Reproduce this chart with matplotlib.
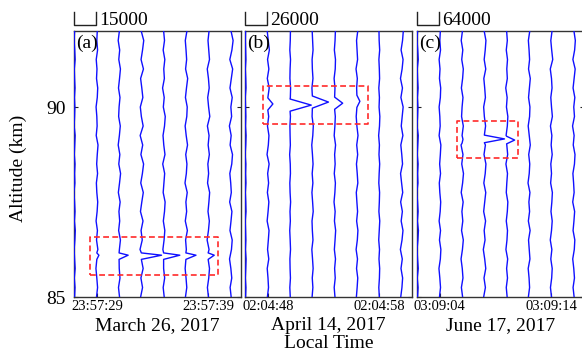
import numpy as np
import matplotlib
matplotlib.use('Agg')
import matplotlib.pyplot as plt

plt.rcParams['font.family'] = ['Liberation Serif', 'DejaVu Serif']

# ---------------- data ----------------
altitudes = np.arange(85.0, 92.001, 0.25)          # km, profile grid (29 levels)
trace_times = [-2, 0, 2, 4, 6, 8, 10, 12]          # s, relative to first labelled tick
trace_spacing = 2.0                                # s between profiles

panel_labels = ['(a)', '(b)', '(c)']
dates = ['March 26, 2017', 'April 14, 2017', 'June 17, 2017']
scales = [15000, 26000, 64000]                     # counts per trace spacing
tick_positions = [0, 10]
tick_labels = [['23:57:29', '23:57:39'],
               ['02:04:48', '02:04:58'],
               ['03:09:04', '03:09:14']]

# profile deviations (counts) on the altitude grid, panel (a)
dev_a = [
    [0, 300, -200, 400, 0, -300, 200, 500, -100, 300, 0, -400, 200, 0, 300, -200, 100, 400, -300, 0, 200, -100, 300, 0, -200, 400, 100, -300, 0],
    [-200, 500, 0, -600, 300, 700, -200, 400, -500, 200, 600, 0, -300, 500, -100, 300, 800, -400, 200, 0, -500, 300, 600, -200, 100, -400, 500, 0, 300],
    [300, -400, 600, 100, -700, 200, 900, -300, 400, -100, 700, -500, 300, 1000, -200, 500, -600, 200, 800, -300, 0, 600, -400, 300, 900, -200, 400, -600, 200],
    [-500, 800, -300, 1200, 200, -900, 600, -200, 1100, -600, 300, 1300, -400, 700, 1500, -300, 900, -800, 1200, 0, -700, 1000, 300, -500, 1400, -200, 800, 1600, -100],
    [400, -300, 700, 0, 900, -500, 300, 800, -200, 600, 1000, -300, 200, 700, -600, 900, 100, -400, 600, 1100, -200, 400, -700, 500, 100, 800, -300, 600, 0],
    [-300, 600, 100, -500, 800, 300, -200, 1000, -400, 500, 0, 900, -600, 300, 700, -100, 1100, 200, -500, 600, 900, -300, 400, 1200, -200, 500, 100, -400, 700],
    [200, -500, 400, 900, -300, 600, -700, 200, 800, -100, 500, 1000, -400, 300, -200, 800, 0, 600, -500, 1100, 300, -300, 700, 200, -600, 900, 400, -100, 600],
    [500, -200, 900, 300, -600, 700, 1200, -300, 400, 1000, -500, 600, 200, -400, 900, 1400, -200, 500, -700, 800, 300, 1200, -300, 600, 1500, -400, 1000, 1800, 400],
]
dev_b = [
    [0, 400, -300, 200, 600, -200, 300, 0, -400, 500, 200, -300, 400, 0, 300, -500, 200, 600, -100, 300, 0, -400, 500, 200, -300, 400, 100, -200, 0],
    [-500, 800, 200, -700, 1100, -300, 600, 1400, -800, 300, 1200, -500, 900, -200, 1500, -900, 600, 1300, -400, 1000, -1100, 700, 1600, -600, 1200, -300, 1800, 500, -700],
    [200, -300, 400, 0, -200, 500, 100, -400, 300, -100, 600, 0, -300, 400, 200, -500, 300, 0, -200, 400, -100, 300, 600, -200, 0, 500, -300, 200, 400],
    [-300, 600, -100, 900, 200, -600, 700, 0, -400, 1000, 300, -500, 600, -200, 800, 100, -700, 500, 1100, -300, 400, 900, -500, 700, 0, -300, 800, 300, -200],
    [400, -500, 700, 0, 1000, -300, 500, 1200, -200, 600, -700, 300, 900, -400, 600, 0, 1100, -500, 300, 800, -200, 1300, 400, -600, 700, 1000, -300, 500, 900],
    [-600, 300, 1000, -400, 700, -900, 500, 1200, -300, 800, 0, -700, 1100, 400, -500, 900, -200, 1300, 0, -800, 600, 1200, -300, 500, -1000, 800, 200, -400, 1000],
    [200, -400, 300, 600, -200, 400, -500, 100, 700, -300, 200, 500, -400, 0, 600, -200, 300, -600, 400, 800, -100, 300, -400, 500, 200, -300, 600, 0, -200],
    [-800, 600, 1400, -500, 1000, -1200, 700, 1800, -300, 1100, -900, 1500, 200, -1000, 1300, 400, -700, 1700, -200, 900, 2000, -600, 1200, -1100, 800, 1900, -400, 1300, 2200],
]
dev_c = [
    [0, 1500, -1000, 2000, 0, -1500, 1000, 2500, -500, 1500, 0, -2000, 1000, 0, 1500, -1000, 500, 2000, -1500, 0, 1000, -500, 1500, 0, -1000, 2000, 500, -1500, 0],
    [-1000, 2000, 0, -2500, 1500, 3000, -1000, 2000, -2000, 1000, 2500, 0, -1500, 2000, -500, 1500, 3000, -2000, 1000, 0, -2000, 1500, 2500, -1000, 500, -2000, 2000, 0, 1500],
    [1500, -2000, 2500, 500, -3000, 1000, 3500, -1500, 2000, -500, 3000, -2500, 1500, 4000, -1000, 2500, -3000, 1000, 3500, -1500, 0, 2500, -2000, 1500, 3500, -1000, 2000, -2500, 1000],
    [-2000, 3000, -1000, 4000, 1000, -3000, 2000, -500, 3500, -2000, 1000, 4000, -1500, 2500, 4500, -1000, 3000, -2500, 3500, 0, -2000, 3000, 1000, -1500, 4000, -500, 2500, 4500, -500],
    [1500, -1000, 2500, 0, 3000, -2000, 1000, 2500, -1000, 2000, 3500, -1000, 500, 2500, -2000, 3000, 500, -1500, 2000, 3500, -500, 1500, -2500, 2000, 500, 2500, -1000, 2000, 0],
    [-1500, 2000, 500, -2000, 3000, 1000, -1000, 3500, -1500, 2000, 0, 3000, -2500, 1000, 2500, -500, 4000, 1000, -2000, 2000, 3000, -1000, 1500, 4000, -1000, 2000, 500, -1500, 2500],
    [1000, -2000, 1500, 3000, -1000, 2000, -2500, 1000, 3000, -500, 2000, 3500, -1500, 1000, -1000, 3000, 0, 2000, -2000, 3500, 1000, -1000, 2500, 1000, -2500, 4500, 1500, -1000, 2500],
    [2000, -1000, 3000, 1000, -2000, 2500, 4000, -1000, 1500, 3500, -2000, 2000, 500, -1500, 3000, 4500, -500, 2000, -2500, 3000, 1000, 4000, -1000, 2000, 5000, -1500, 3500, 5500, 1500],
]

# sporadic-layer spikes: altitude (km) and peak count excess per trace
spike_alt_a = [86.1, 86.1, 86.1, 86.1, 86.1, 86.1, 86.1, 86.1]
spike_amp_a = [0, 1400, 6100, 13600, 10900, 6800, 4100, 0]
spike_alt_b = [90.0, 90.08, 90.05, 90.13, 90.1, 90.15, 90.0, 90.0]
spike_amp_b = [0, 5900, 24700, 18800, 9400, 3500, 0, 0]
spike_alt_c = [89.15, 89.15, 89.15, 89.16, 89.13, 89.15, 89.15, 89.15]
spike_amp_c = [0, 0, 2500, 57900, 23000, 0, 0, 0]

# highlighted layer boxes: (t0, t1, alt0, alt1)
box_a = (-0.61, 10.89, 85.58, 86.58)
box_b = (-0.43, 9.0, 89.55, 90.55)
box_c = (1.54, 7.02, 88.66, 89.63)

# ---------------- styling ----------------
W, H = 582, 356
fig = plt.figure(figsize=(W / 100, H / 100), dpi=100)
panel_left_px = [74, 245, 417]
panel_w_px = 167
top_px, bottom_px = 31, 297
xlim = (-2.05, 12.95)
ylim = (85, 92)
spike_halfwidth = [(0.11, 0.06), (0.16, 0.16), (0.10, 0.10)]   # (below, above)

devs = [dev_a, dev_b, dev_c]
spike_alts = [spike_alt_a, spike_alt_b, spike_alt_c]
spike_amps = [spike_amp_a, spike_amp_b, spike_amp_c]
boxes = [box_a, box_b, box_c]

axes = []
for p in range(3):
    ax = fig.add_axes([panel_left_px[p] / W, 1 - bottom_px / H,
                       panel_w_px / W, (bottom_px - top_px) / H])
    axes.append(ax)
    hw_lo, hw_hi = spike_halfwidth[p]
    for i, t in enumerate(trace_times):
        alts = list(altitudes)
        vals = list(devs[p][i])
        amp = spike_amps[p][i]
        if amp:
            sa = spike_alts[p][i]
            keep = [(a, v) for a, v in zip(alts, vals)
                    if a < sa - hw_lo - 0.01 or a > sa + hw_hi + 0.01]
            keep += [(sa - hw_lo, 0), (sa, amp), (sa + hw_hi, 0)]
            keep.sort()
            alts = [k[0] for k in keep]
            vals = [k[1] for k in keep]
        x = t + np.array(vals, dtype=float) * trace_spacing / scales[p]
        ax.plot(x, alts, color='#1010ff', lw=1.0, zorder=3)

    t0, t1, a0, a1 = boxes[p]
    ax.plot([t0, t1, t1, t0, t0], [a0, a0, a1, a1, a0], color='#ff2a2a',
            lw=1.2, linestyle=(0, (3.5, 2.0)), zorder=4)

    ax.set_xlim(*xlim)
    ax.set_ylim(*ylim)
    ax.set_xticks(tick_positions)
    ax.set_xticklabels(tick_labels[p], fontsize=10.5)
    ax.set_yticks([85, 90])
    if p == 0:
        ax.set_yticklabels(['85', '90'], fontsize=14)
    else:
        ax.set_yticklabels([])
    ax.tick_params(axis='both', direction='in', length=3, width=0.8,
                   left=True, right=True, top=False, bottom=True, color='#222222')
    ax.tick_params(axis='x', pad=2.5)
    ax.tick_params(axis='y', pad=6)
    for s in ax.spines.values():
        s.set_linewidth(1.0)
        s.set_color('#333333')

    ax.text(0.012, 0.985, panel_labels[p], transform=ax.transAxes,
            ha='left', va='top', fontsize=14)

    # scale bar
    xb = xlim[0]
    ax.plot([xb, xb, xb + trace_spacing, xb + trace_spacing],
            [92.5, 92.16, 92.16, 92.5], color='#222222', lw=1.0, clip_on=False)
    ax.text(xb + trace_spacing + 0.3, 92.16, str(scales[p]), ha='left',
            va='baseline', fontsize=14)

    cx = (panel_left_px[p] + panel_w_px / 2) / W
    fig.text(cx, 1 - 330 / H, dates[p], ha='center', va='baseline', fontsize=14)

fig.text((245 + panel_w_px / 2) / W, 1 - 348 / H, 'Local Time', ha='center',
         va='baseline', fontsize=14)
fig.text(18 / W, 1 - 168 / H, 'Altitude (km)', rotation=90, ha='center',
         va='center', fontsize=14)

fig.savefig('out.png', dpi=100)
